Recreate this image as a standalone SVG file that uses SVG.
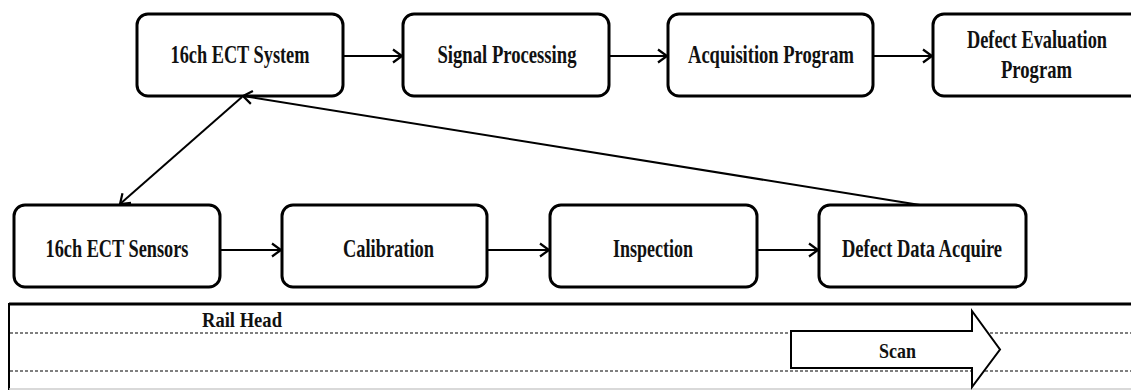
<svg xmlns="http://www.w3.org/2000/svg" width="1131" height="390" viewBox="0 0 1131 390">
<defs>
<marker id="ah" markerUnits="userSpaceOnUse" markerWidth="14" markerHeight="16" viewBox="0 0 14 16" refX="11" refY="8" orient="auto">
<path d="M2,1.5 L11,8 L2,14.5" fill="none" stroke="#000" stroke-width="2.2"/>
</marker>
</defs>
<style>
.lbl{font-family:'Liberation Serif','Times New Roman',serif;font-weight:bold;font-size:25px;fill:#111;text-anchor:middle}
.sm{font-size:22px}
.box{fill:#fff;stroke:#000;stroke-width:3}
.con{stroke:#000;stroke-width:2;fill:none;marker-end:url(#ah)}
.dash{stroke:#555;stroke-width:1.5;stroke-dasharray:3 2}
</style>
<rect width="1131" height="390" fill="#fff"/>
<g id="rail">
<line x1="9" y1="304" x2="1131" y2="304" stroke="#000" stroke-width="3"/>
<line x1="9" y1="303" x2="9" y2="390" stroke="#000" stroke-width="2"/>
<line x1="9" y1="389" x2="1131" y2="389" stroke="#ccc" stroke-width="1.5"/>
<line class="dash" x1="10" y1="333" x2="1131" y2="333"/>
<line class="dash" x1="10" y1="371" x2="1131" y2="371"/>
<text class="lbl sm" x="242" y="327" textLength="80" lengthAdjust="spacingAndGlyphs">Rail Head</text>
</g>
<g id="scan">
<path d="M791,331 H972 V311 L1000,349.5 L972,387 V368 H791 Z" fill="#fff" stroke="#000" stroke-width="2"/>
<text class="lbl sm" x="897.5" y="358" textLength="37" lengthAdjust="spacingAndGlyphs">Scan</text>
</g>
<g id="n1">
<rect class="box" x="137" y="14" width="206" height="82" rx="11"/>
<text class="lbl" x="240" y="63" textLength="139" lengthAdjust="spacingAndGlyphs">16ch ECT System</text>
</g>
<g id="n2">
<rect class="box" x="403" y="14" width="206" height="82" rx="11"/>
<text class="lbl" x="507" y="63" textLength="139" lengthAdjust="spacingAndGlyphs">Signal Processing</text>
</g>
<g id="n3">
<rect class="box" x="668" y="14" width="205" height="82" rx="11"/>
<text class="lbl" x="771" y="63" textLength="166" lengthAdjust="spacingAndGlyphs">Acquisition Program</text>
</g>
<g id="n4">
<rect class="box" x="933" y="14" width="210" height="82" rx="11"/>
<text class="lbl" x="1037" y="48" textLength="140" lengthAdjust="spacingAndGlyphs">Defect Evaluation</text>
<text class="lbl" x="1036.5" y="78" textLength="71" lengthAdjust="spacingAndGlyphs">Program</text>
</g>
<g id="n5">
<rect class="box" x="14" y="205" width="206" height="82" rx="11"/>
<text class="lbl" x="117" y="257" textLength="143" lengthAdjust="spacingAndGlyphs">16ch ECT Sensors</text>
</g>
<g id="n6">
<rect class="box" x="282" y="205" width="205" height="82" rx="11"/>
<text class="lbl" x="388.5" y="257" textLength="91" lengthAdjust="spacingAndGlyphs">Calibration</text>
</g>
<g id="n7">
<rect class="box" x="550" y="205" width="207" height="82" rx="11"/>
<text class="lbl" x="653" y="257" textLength="80" lengthAdjust="spacingAndGlyphs">Inspection</text>
</g>
<g id="n8">
<rect class="box" x="819" y="205" width="207" height="82" rx="11"/>
<text class="lbl" x="922" y="257" textLength="160" lengthAdjust="spacingAndGlyphs">Defect Data Acquire</text>
</g>
<g id="connectors">
<line class="con" x1="344" y1="56" x2="402" y2="56"/>
<line class="con" x1="610" y1="56" x2="667" y2="56"/>
<line class="con" x1="874" y1="56" x2="932" y2="56"/>
<line class="con" x1="221" y1="250" x2="281" y2="250"/>
<line class="con" x1="488" y1="250" x2="549" y2="250"/>
<line class="con" x1="758" y1="250" x2="818" y2="250"/>
<line class="con" x1="920" y1="205" x2="243" y2="96"/>
<line class="con" x1="242" y1="97" x2="120" y2="204"/>
</g>
</svg>
